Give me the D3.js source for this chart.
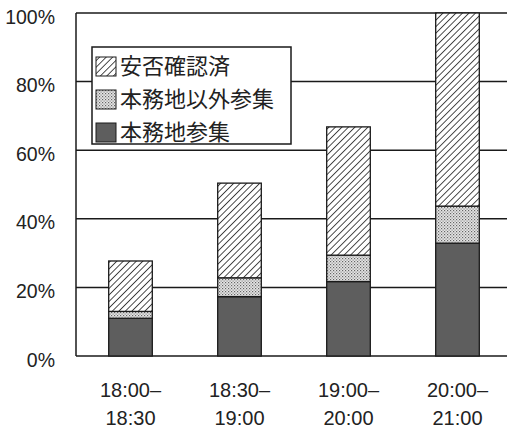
<!DOCTYPE html>
<html>
<head>
<meta charset="utf-8">
<script src="https://cdn.jsdelivr.net/npm/d3@7"></script>
<style>
body { margin: 0; background: #fff; }
text { fill: #222; }
.num { font-family: "Liberation Sans", Arial, sans-serif; }
.jp { font-family: "Noto Sans CJK JP", sans-serif; }
</style>
</head>
<body>
<div id="chart"></div>
<script>
// time slots (two-line labels)
var categories = ["18:00–\n18:30", "18:30–\n19:00", "19:00–\n20:00", "20:00–\n21:00"];
// stacked from bottom: 本務地参集, 本務地以外参集, 安否確認済 (percent)
var honmu = [11.0, 17.3, 21.7, 32.9];
var igai = [2.0, 5.5, 7.7, 10.8];
var anpi = [14.7, 27.6, 37.4, 56.3];
var seriesNames = ["安否確認済", "本務地以外参集", "本務地参集"];
var yTicks = [0, 20, 40, 60, 80, 100];

var width = 507, height = 428;
var svg = d3.select("#chart").append("svg")
    .attr("width", width)
    .attr("height", height);

var defs = svg.append("defs");
var hatch = defs.append("pattern")
    .attr("id", "hatch")
    .attr("patternUnits", "userSpaceOnUse")
    .attr("width", 4.6).attr("height", 4.6)
    .attr("patternTransform", "rotate(45)");
hatch.append("rect").attr("width", 4.6).attr("height", 4.6).attr("fill", "#fff");
hatch.append("line")
    .attr("x1", 0).attr("y1", 0).attr("x2", 0).attr("y2", 4.6)
    .attr("stroke", "#111").attr("stroke-width", 1.5);

var dots = defs.append("pattern")
    .attr("id", "dots")
    .attr("patternUnits", "userSpaceOnUse")
    .attr("width", 3).attr("height", 3);
dots.append("rect").attr("width", 3).attr("height", 3).attr("fill", "#e6e6e6");
dots.append("rect").attr("width", 1.2).attr("height", 1.2).attr("fill", "#666");
dots.append("rect").attr("x", 1.5).attr("y", 1.5).attr("width", 1.2).attr("height", 1.2).attr("fill", "#888");

var x = d3.scaleBand()
    .domain(categories)
    .range([76, 512])
    .paddingInner(0.6)
    .paddingOuter(0.3);

var y = d3.scaleLinear()
    .domain([0, 100])
    .range([356, 13]);

// gridlines
svg.selectAll(".grid")
    .data(yTicks)
    .enter()
    .append("line")
    .attr("x1", 76).attr("x2", width)
    .attr("y1", function(d){ return y(d); })
    .attr("y2", function(d){ return y(d); })
    .attr("stroke", "#1a1a1a")
    .attr("stroke-width", 1.5);

svg.append("line")
    .attr("x1", 76).attr("x2", 76)
    .attr("y1", y(100)).attr("y2", y(0))
    .attr("stroke", "#1a1a1a")
    .attr("stroke-width", 1.5);

// y labels
svg.selectAll(".ylab")
    .data(yTicks)
    .enter()
    .append("text")
    .attr("class", "num")
    .attr("x", 55)
    .attr("y", function(d){ return y(d) + 10.5; })
    .attr("text-anchor", "end")
    .style("font-size", "19.5px")
    .text(function(d){ return d + "%"; });

// stacked bars
var rows = categories.map(function(c, i){
  return {cat: c, honmu: honmu[i], igai: igai[i], anpi: anpi[i]};
});
var stack = d3.stack().keys(["honmu", "igai", "anpi"]);
var fills = {honmu: "#5e5e5e", igai: "url(#dots)", anpi: "url(#hatch)"};

svg.selectAll(".layer")
    .data(stack(rows))
    .enter()
    .append("g")
    .attr("fill", function(d){ return fills[d.key]; })
    .selectAll("rect")
    .data(function(d){ return d; })
    .enter()
    .append("rect")
    .attr("x", function(d){ return x(d.data.cat); })
    .attr("width", x.bandwidth())
    .attr("y", function(d){ return y(d[1]); })
    .attr("height", function(d){ return y(d[0]) - y(d[1]); })
    .attr("stroke", "#1a1a1a")
    .attr("stroke-width", 1.3);

// x labels
categories.forEach(function(c){
  var parts = c.split("\n");
  var t = svg.append("text")
      .attr("class", "num")
      .attr("text-anchor", "middle")
      .style("font-size", "20px");
  parts.forEach(function(p, j){
    t.append("tspan")
      .attr("x", x(c) + x.bandwidth() / 2)
      .attr("y", 397 + j * 28)
      .text(p);
  });
});

// legend
var legend = svg.append("g");
legend.append("rect")
    .attr("x", 92).attr("y", 47)
    .attr("width", 199).attr("height", 97)
    .attr("fill", "#fff")
    .attr("stroke", "#1a1a1a")
    .attr("stroke-width", 1.5);
var legFills = ["url(#hatch)", "url(#dots)", "#5e5e5e"];
seriesNames.forEach(function(name, i){
  legend.append("rect")
    .attr("x", 96).attr("y", 57 + i * 33)
    .attr("width", 20).attr("height", 19)
    .attr("fill", legFills[i])
    .attr("stroke", "#1a1a1a")
    .attr("stroke-width", 1);
  legend.append("text")
    .attr("class", "jp")
    .attr("x", 120).attr("y", 74 + i * 33)
    .style("font-size", "22px")
    .text(name);
});
</script>
</body>
</html>
